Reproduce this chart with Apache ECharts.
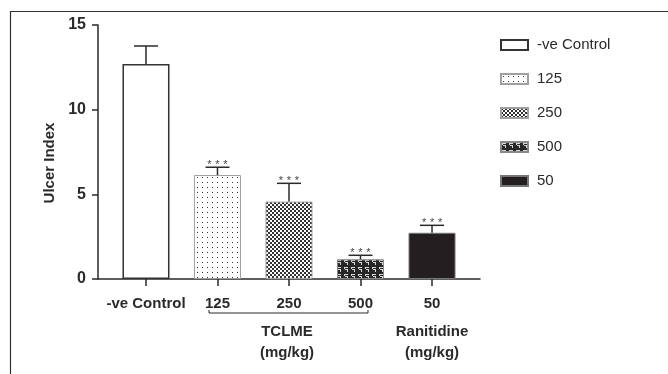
<!DOCTYPE html>
<html>
<head>
<meta charset="utf-8">
<script src="https://cdn.jsdelivr.net/npm/echarts@6/dist/echarts.min.js"></script>
<style>html,body{margin:0;padding:0;background:#fff}#c{width:668px;height:374px}</style>
</head>
<body>
<div id="c"></div>
<script>
// ---- data ----
const categories = ['-ve Control', '125', '250', '500', '50'];
const seriesNames = ['-ve Control', '125', '250', '500', '50'];
const means = [12.7, 6.14, 4.57, 1.16, 2.73];
const sems = [1.06, 0.46, 1.08, 0.24, 0.44];
const signif = ['', '***', '***', '***', '***'];
const yTicks = [0, 5, 10, 15];
const groupNames = ['TCLME', 'Ranitidine'];
const groupUnits = ['(mg/kg)', '(mg/kg)'];
const groupFrom = [2, 5];
const groupTo = [4, 5];
const groupBracket = [true, false];

const FONT = '"Liberation Sans", Arial, sans-serif';
const INK = '#2a2a2a';

// ---- patterns ----
function tile(w, h, draw) {
  const c = document.createElement('canvas');
  c.width = w; c.height = h;
  const g = c.getContext('2d');
  draw(g);
  return { image: c, repeat: 'repeat' };
}
const patDots = tile(5, 5, g => { g.fillStyle = '#fff'; g.fillRect(0,0,5,5); g.fillStyle = '#333'; g.fillRect(2,2,1,1); });
const patCheck = tile(4, 4, g => { g.fillStyle = '#fff'; g.fillRect(0,0,4,4); g.fillStyle = '#333'; g.fillRect(0,0,2,2); g.fillRect(2,2,2,2); });
const patBrick = tile(7, 7, g => {
  g.fillStyle = '#262626'; g.fillRect(0,0,7,7);
  g.fillStyle = '#d8d8d8';
  g.fillRect(1,1,4,1); g.fillRect(1,1,1,2); g.fillRect(2,3,3,1); g.fillRect(4,3,1,3);
});
const fills = ['#ffffff', patDots, patCheck, patBrick, '#231f20'];
const borders = ['#333333', '#a0a0a0', '#a0a0a0', '#888888', '#777777'];
const borderW = [1.5, 1, 1, 1, 1];

const pad = 0.671;
const xPos = categories.map((c, i) => i + 1);

const barSeries = seriesNames.map((n, i) => ({
  name: n,
  type: 'bar',
  barWidth: 47,
  barGap: '-100%',
  data: [[xPos[i], means[i]]],
  itemStyle: { color: fills[i], borderColor: borders[i], borderWidth: borderW[i] },
  silent: true,
  z: 2
}));

const errSeries = {
  type: 'custom',
  z: 5,
  silent: true,
  clip: false,
  data: means.map((m, i) => [xPos[i], m, m + sems[i], i]),
  renderItem: function (params, api) {
    const x = api.value(0);
    const base = api.coord([x, api.value(1)]);
    const top = api.coord([x, api.value(2)]);
    const idx = api.value(3);
    const ch = [
      { type: 'line', shape: { x1: base[0], y1: base[1], x2: top[0], y2: top[1] }, style: { stroke: INK, lineWidth: 1.5 } },
      { type: 'line', shape: { x1: top[0] - 12, y1: top[1], x2: top[0] + 12, y2: top[1] }, style: { stroke: INK, lineWidth: 1.5 } }
    ];
    const s = signif[idx];
    for (let k = 0; k < s.length; k++) {
      ch.push({ type: 'text', x: top[0] + (k - (s.length - 1) / 2) * 8, y: top[1] - 8,
        style: { text: s[k], fill: '#444', font: '11px ' + FONT, align: 'center', verticalAlign: 'top' } });
    }
    return { type: 'group', children: ch };
  }
};

const groupSeries = {
  type: 'custom',
  z: 5,
  silent: true,
  clip: false,
  data: groupNames.map((g, i) => [groupFrom[i], groupTo[i], i]),
  renderItem: function (params, api) {
    const i = api.value(2);
    const a = api.coord([api.value(0), 0]);
    const b = api.coord([api.value(1), 0]);
    const y0 = a[1];
    const ch = [];
    if (groupBracket[i]) {
      const x1 = a[0] - 8.5, x2 = b[0] + 7.5, yb = y0 + 34;
      ch.push({ type: 'polyline', shape: { points: [[x1, yb - 3], [x1, yb], [x2, yb], [x2, yb - 3]] }, style: { stroke: INK, lineWidth: 1, fill: null } });
    }
    const cx = (a[0] + b[0]) / 2 - (groupBracket[i] ? 2 : 0);
    ch.push({ type: 'text', x: cx, y: y0 + 53, style: { text: groupNames[i], fill: INK, font: 'bold 15px ' + FONT, align: 'center', verticalAlign: 'middle' } });
    ch.push({ type: 'text', x: cx, y: y0 + 74, style: { text: groupUnits[i], fill: INK, font: 'bold 15px ' + FONT, align: 'center', verticalAlign: 'middle' } });
    return { type: 'group', children: ch };
  }
};

const chart = echarts.init(document.getElementById('c'), null, { renderer: 'canvas' });
chart.setOption({
  animation: false,
  backgroundColor: '#fff',
  textStyle: { fontFamily: FONT },
  graphic: [{ type: 'rect', silent: true, shape: { x: 10.5, y: 11.5, width: 700, height: 400 }, style: { fill: 'none', stroke: '#333', lineWidth: 1.2 } }],
  grid: { left: 98, right: 188, top: 25, bottom: 95, containLabel: false },
  legend: {
    orient: 'vertical', left: 495, top: 32,
    data: seriesNames,
    icon: 'rect', itemWidth: 27, itemHeight: 10, itemGap: 18,
    selectedMode: false,
    textStyle: { fontSize: 15, color: INK, lineHeight: 16, padding: [0, 0, 0, 4], fontFamily: FONT }
  },
  xAxis: {
    type: 'value', min: 1 - pad, max: categories.length + pad,
    splitLine: { show: false },
    axisLine: { show: true, lineStyle: { color: INK, width: 1.5 } },
    axisTick: { show: true, customValues: xPos, length: 7, lineStyle: { color: INK, width: 1.5 } },
    axisLabel: { customValues: xPos, margin: 17, fontSize: 15, fontWeight: 'bold', color: INK,
      formatter: v => categories[Math.round(v) - 1] || '' }
  },
  yAxis: {
    type: 'value', min: yTicks[0], max: yTicks[yTicks.length - 1], interval: yTicks[1] - yTicks[0],
    splitLine: { show: false },
    axisLine: { show: true, lineStyle: { color: INK, width: 1.5 } },
    axisTick: { show: true, length: 6, lineStyle: { color: INK, width: 1.5 } },
    axisLabel: { margin: 12, fontSize: 16, fontWeight: 'bold', color: INK },
    name: 'Ulcer Index', nameLocation: 'middle', nameGap: 41, nameRotate: 90,
    nameTextStyle: { fontSize: 15, fontWeight: 'bold', color: INK, padding: [0, 22, 0, 0] }
  },
  series: barSeries.concat([errSeries, groupSeries])
});
</script>
</body>
</html>
